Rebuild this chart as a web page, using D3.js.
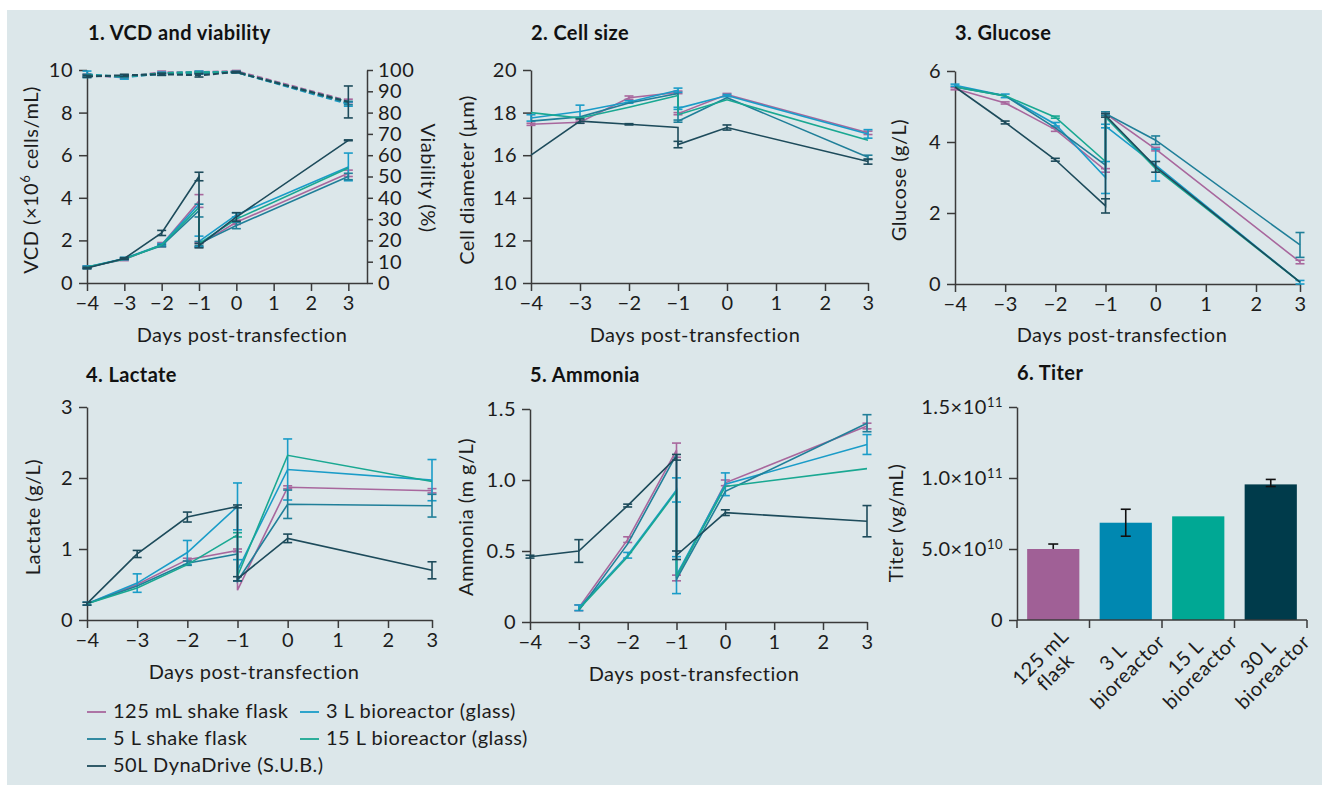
<!DOCTYPE html>
<html><head><meta charset="utf-8">
<script src="https://cdn.jsdelivr.net/npm/d3@7"></script>
<style>body{margin:0;background:#fff;} svg{display:block;font-family:Lato, sans-serif;}</style>
</head><body>
<svg id="c" width="1322" height="785"></svg>
<script>
// ---------- DATA ----------
const seriesNames = ["125 mL shake flask", "3 L bioreactor (glass)", "5 L shake flask", "15 L bioreactor (glass)", "50L DynaDrive (S.U.B.)"];
const days = [-4, -3, -2, -1, -1, 0, 3];        // day -1 sampled before and after split
const viaDays = [-4, -3, -2, -1, 0, 3];
const dayTicks = [-4, -3, -2, -1, 0, 1, 2, 3];

const vcd = [
  [0.75, 1.10, 1.80, 3.85, 1.80, 2.85, 5.15],
  [0.75, 1.15, 1.80, 3.70, 1.95, 3.20, 5.45],
  [0.72, 1.15, 1.75, 3.40, 1.85, 2.70, 5.00],
  [0.75, 1.12, 1.78, 3.55, 1.85, 3.00, 5.40],
  [0.70, 1.15, 2.35, 5.00, 1.75, 3.10, 6.70]
];
const vcdErr = [
  [0.05, 0.05, 0.10, 0.30, 0.10, 0.10, 0.15],
  [0.05, 0.05, 0.05, 0, 0.25, 0.10, 0.65],
  [0.05, 0.05, 0.05, 0.30, 0.10, 0.15, 0.15],
  [0, 0, 0, 0, 0, 0, 0],
  [0.03, 0.03, 0.12, 0.20, 0.10, 0.20, 0.02]
];
const viability = [
  [97.5, 96.5, 99.0, 99.0, 99.5, 85.5],
  [98.0, 96.5, 98.5, 99.0, 99.0, 84.0],
  [97.5, 97.0, 98.0, 98.5, 99.0, 84.5],
  [97.5, 97.0, 98.5, 99.0, 99.0, 85.0],
  [97.0, 97.5, 98.0, 97.5, 99.0, 85.0]
];
const viabilityErr = [
  [0.5, 0.5, 0.5, 0.5, 0.3, 0.8],
  [1.5, 0.8, 0.5, 0.5, 0.3, 1.0],
  [0.5, 0.5, 0.5, 0.5, 0.3, 0.8],
  [0, 0, 0, 0, 0, 0],
  [0.5, 0.5, 0.5, 0.8, 0.3, 7.5]
];
const cellSize = [
  [17.45, 17.55, 18.70, 18.95, 17.95, 18.85, 17.05],
  [17.75, 18.05, 18.50, 19.05, 18.20, 18.80, 17.00],
  [17.60, 17.80, 18.45, 18.90, 17.60, 18.70, 15.90],
  [18.00, 17.75, 18.25, 18.80, 17.90, 18.60, 16.70],
  [16.00, 17.60, 17.45, 17.30, 16.50, 17.30, 15.70]
];
const cellSizeErr = [
  [0.05, 0.05, 0.08, 0.06, 0.05, 0.05, 0.08],
  [0.15, 0.30, 0.06, 0.10, 0.05, 0.05, 0.20],
  [0, 0, 0, 0, 0.05, 0, 0.10],
  [0, 0, 0, 0, 0, 0, 0],
  [0, 0.10, 0.03, 0, 0.15, 0.12, 0.12]
];
const glucose = [
  [5.50, 5.10, 4.35, 3.20, 4.80, 3.80, 0.62],
  [5.60, 5.30, 4.50, 3.00, 4.45, 3.35, 0.05],
  [5.55, 5.30, 4.40, 3.35, 4.80, 4.05, 1.10],
  [5.55, 5.30, 4.70, 3.45, 4.70, 3.25, 0.05],
  [5.55, 4.55, 3.50, 2.20, 4.75, 3.30, 0.05]
];
const glucoseErr = [
  [0.03, 0.03, 0.05, 0.05, 0.05, 0.05, 0.05],
  [0.03, 0.05, 0.05, 0.45, 0.05, 0.45, 0.05],
  [0, 0, 0, 0, 0.05, 0.12, 0.35],
  [0, 0, 0.03, 0, 0, 0, 0],
  [0, 0.04, 0.04, 0.20, 0.05, 0.15, 0]
];
const lactate = [
  [0.23, 0.50, 0.85, 0.98, 0.42, 1.87, 1.82],
  [0.23, 0.52, 0.95, 1.60, 0.70, 2.12, 1.97],
  [0.23, 0.48, 0.80, 0.93, 0.55, 1.63, 1.61],
  [0.23, 0.45, 0.78, 1.20, 0.62, 2.32, 1.95],
  [0.23, 0.93, 1.45, 1.60, 0.58, 1.15, 0.70]
];
const lactateErr = [
  [0, 0, 0.02, 0.02, 0, 0.02, 0.03],
  [0.02, 0.13, 0.17, 0.33, 0.15, 0.43, 0.29],
  [0, 0, 0.03, 0, 0, 0.20, 0.16],
  [0, 0, 0, 0.03, 0, 0, 0],
  [0.02, 0.05, 0.07, 0.02, 0.03, 0.06, 0.12]
];
const ammonia = [
  [null, 0.10, 0.58, 1.21, 0.31, 0.98, 1.38],
  [null, 0.10, 0.47, 0.93, 0.33, 0.97, 1.25],
  [null, 0.08, 0.55, 1.18, 0.30, 0.92, 1.40],
  [null, 0.09, 0.46, 0.92, 0.32, 0.955, 1.08],
  [0.46, 0.50, 0.82, 1.16, 0.47, 0.77, 0.71]
];
const ammoniaErr = [
  [0, 0.02, 0.02, 0.05, 0.02, 0.02, 0.02],
  [0, 0.02, 0.02, 0.085, 0.13, 0.08, 0.07],
  [0, 0, 0, 0, 0, 0, 0.06],
  [0, 0, 0, 0, 0, 0, 0],
  [0.01, 0.08, 0.01, 0.02, 0.03, 0.02, 0.11]
];
const titerCats = ["125 mL|flask", "3 L|bioreactor", "15 L|bioreactor", "30 L|bioreactor"];
const titer = [5.0e10, 6.85e10, 7.3e10, 9.55e10];
const titerLow = [5.0e10, 5.9e10, null, 9.4e10];
const titerHigh = [5.35e10, 7.8e10, null, 9.9e10];
const titerTicks = [0, 5e10, 1e11, 1.5e11];

// ---------- STYLE ----------
const colors = ["#a8679d", "#1a9cc8", "#207f99", "#19a892", "#1d4b5b"];
const barColors = ["#a06096", "#0088b1", "#00a894", "#003b4b"];
const axisColor = "#3a3a3a";
const textColor = "#1c1c1c";
const FS = 20, LS = 0.5;

const svg = d3.select("#c");
svg.append("rect").attr("x", 7).attr("y", 10).attr("width", 1315).attr("height", 775).attr("fill", "#dce7ea");

function styleAxis(g) {
  g.attr("font-family", "Lato, sans-serif").attr("font-size", FS);
  g.selectAll("path,line").attr("stroke", axisColor).attr("stroke-width", 1.5);
  g.selectAll("text").attr("fill", textColor).attr("letter-spacing", LS);
}
function title(x, y, t) {
  svg.append("text").attr("x", x).attr("y", y).attr("font-weight", 700).attr("font-size", 20)
    .attr("letter-spacing", 0.4).attr("fill", "#111").text(t);
}
function ylabel(x, y, t, rot) {
  svg.append("text").attr("transform", `translate(${x},${y}) rotate(${rot || -90})`)
    .attr("text-anchor", "middle").attr("font-size", FS).attr("letter-spacing", LS).attr("fill", textColor).text(t);
}
function xlabel(x, y, t) {
  svg.append("text").attr("x", x).attr("y", y).attr("text-anchor", "middle")
    .attr("font-size", FS).attr("letter-spacing", LS).attr("fill", textColor).text(t);
}
function drawSeries(x, y, xs, vals, errs, dashed) {
  const g = svg.append("g");
  [0, 1, 2, 3, 4].forEach(i => {
    const pts = vals[i].map((v, j) => ({ x: xs[j], v, e: errs ? errs[i][j] : 0 }));
    const line = d3.line().defined(d => d.v != null).x(d => x(d.x)).y(d => y(d.v));
    g.append("path").attr("d", line(pts)).attr("fill", "none").attr("stroke", colors[i])
      .attr("stroke-width", dashed ? 2 : 1.6).attr("stroke-dasharray", dashed ? "6,3" : null);
    pts.filter(d => d.v != null && d.e > 0).forEach(d => {
      const cx = x(d.x), y1 = y(d.v - d.e), y2 = y(d.v + d.e);
      const eg = g.append("g").attr("stroke", colors[i]).attr("stroke-width", 1.6);
      eg.append("line").attr("x1", cx).attr("x2", cx).attr("y1", y1).attr("y2", y2);
      eg.append("line").attr("x1", cx - 4.5).attr("x2", cx + 4.5).attr("y1", y1).attr("y2", y1);
      eg.append("line").attr("x1", cx - 4.5).attr("x2", cx + 4.5).attr("y1", y2).attr("y2", y2);
    });
  });
}
function xAxis(x, yPos) {
  const g = svg.append("g").attr("transform", `translate(0,${yPos})`)
    .call(d3.axisBottom(x).tickValues(dayTicks).tickSize(8).tickPadding(5).tickSizeOuter(0).tickFormat(d3.format("d")));
  styleAxis(g);
}
function yAxis(y, xPos, ticks, fmt) {
  const g = svg.append("g").attr("transform", `translate(${xPos},0)`)
    .call(d3.axisLeft(y).tickValues(ticks).tickSize(8).tickPadding(6).tickSizeOuter(0).tickFormat(fmt));
  styleAxis(g);
}

// ---------- PANEL 1 ----------
{
  const x = d3.scaleLinear().domain([-4, 3.5]).range([87, 367]);
  const y = d3.scaleLinear().domain([0, 10]).range([283, 70]);
  const y2 = d3.scaleLinear().domain([0, 100]).range([283, 70]);
  xAxis(x, 283);
  yAxis(y, 87, [0, 2, 4, 6, 8, 10], d3.format("d"));
  const g = svg.append("g").attr("transform", "translate(367,0)")
    .call(d3.axisRight(y2).tickValues(d3.range(0, 101, 10)).tickSize(6).tickPadding(5).tickSizeOuter(0));
  styleAxis(g);
  drawSeries(x, y2, viaDays, viability, viabilityErr, true);
  drawSeries(x, y, days, vcd, vcdErr, false);
  title(88, 40, "1. VCD and viability");
  const t = svg.append("text").attr("transform", "translate(38,180) rotate(-90)").attr("text-anchor", "middle")
    .attr("font-size", FS).attr("letter-spacing", LS).attr("fill", textColor);
  t.append("tspan").text("VCD (×10");
  t.append("tspan").attr("font-size", 13).attr("dy", -8).text("6");
  t.append("tspan").attr("dy", 8).text(" cells/mL)");
  ylabel(421, 178, "Viability (%)", 90);
  xlabel(242, 342, "Days post-transfection");
}

// ---------- PANELS 2-5 ----------
const panels = [
  { t: "2. Cell size", tx: 531, ty: 40, xr: [531, 825, 868], yd: [10, 20], yr: [283, 70], yt: [10, 12, 14, 16, 18, 20], fmt: d3.format("d"),
    yl: "Cell diameter (µm)", ylx: 474, yly: 180, xlx: 695, xly: 342, vals: cellSize, errs: cellSizeErr },
  { t: "3. Glucose", tx: 955, ty: 40, xr: [955, 1256, 1300], yd: [0, 6], yr: [284, 71], yt: [0, 2, 4, 6], fmt: d3.format("d"),
    yl: "Glucose (g/L)", ylx: 906, yly: 180, xlx: 1122, xly: 342, vals: glucose, errs: glucoseErr },
  { t: "4. Lactate", tx: 86, ty: 382, xr: [87, 388, 432], yd: [0, 3], yr: [620, 407], yt: [0, 1, 2, 3], fmt: d3.format("d"),
    yl: "Lactate (g/L)", ylx: 40, yly: 517, xlx: 254, xly: 679, vals: lactate, errs: lactateErr },
  { t: "5. Ammonia", tx: 530, ty: 382, xr: [530, 823, 867], yd: [0, 1.5], yr: [622, 409], yt: [0, 0.5, 1, 1.5], fmt: d => d === 0 ? "0" : d3.format(".1f")(d),
    yl: "Ammonia (m g/L)", ylx: 473, yly: 517, xlx: 694, xly: 681, vals: ammonia, errs: ammoniaErr }
];
panels.forEach(p => {
  const x = d3.scaleLinear().domain([-4, 2, 3]).range(p.xr);
  const y = d3.scaleLinear().domain(p.yd).range(p.yr);
  xAxis(x, p.yr[0]);
  yAxis(y, p.xr[0], p.yt, p.fmt);
  drawSeries(x, y, days, p.vals, p.errs, false);
  title(p.tx, p.ty, p.t);
  ylabel(p.ylx, p.yly, p.yl, -90);
  xlabel(p.xlx, p.xly, "Days post-transfection");
});

// ---------- PANEL 6 ----------
{
  const x = d3.scaleBand().domain(titerCats).range([1017, 1307]).paddingInner(0.28).paddingOuter(0.14);
  const y = d3.scaleLinear().domain([0, 1.5e11]).range([620, 407]);
  svg.append("g").selectAll("rect").data(titerCats).join("rect")
    .attr("x", d => x(d)).attr("width", x.bandwidth())
    .attr("y", (d, i) => y(titer[i])).attr("height", (d, i) => y(0) - y(titer[i]))
    .attr("fill", (d, i) => barColors[i]);
  titerCats.forEach((c, i) => {
    if (titerLow[i] == null) return;
    const cx = x(c) + x.bandwidth() / 2, y1 = y(titerLow[i]), y2 = y(titerHigh[i]);
    const eg = svg.append("g").attr("stroke", "#111").attr("stroke-width", 1.6);
    eg.append("line").attr("x1", cx).attr("x2", cx).attr("y1", y1).attr("y2", y2);
    if (titerLow[i] < titer[i]) eg.append("line").attr("x1", cx - 5).attr("x2", cx + 5).attr("y1", y1).attr("y2", y1);
    eg.append("line").attr("x1", cx - 5).attr("x2", cx + 5).attr("y1", y2).attr("y2", y2);
  });
  const gy = svg.append("g").attr("transform", "translate(1017,0)")
    .call(d3.axisLeft(y).tickValues(titerTicks).tickSize(8).tickPadding(6).tickSizeOuter(0).tickFormat(""));
  styleAxis(gy);
  gy.selectAll(".tick").each(function (d) {
    const t = d3.select(this).select("text");
    t.text(null);
    if (d === 0) { t.text("0"); return; }
    const e = Math.floor(Math.log10(d) + 1e-9), m = d / Math.pow(10, e);
    t.append("tspan").text(m.toFixed(1) + "×10");
    t.append("tspan").attr("font-size", 13).attr("dy", "-0.5em").text(e);
  });
  const step = x.step();
  const gx = svg.append("g").attr("transform", "translate(0,620)");
  gx.append("line").attr("x1", 1017).attr("x2", 1307).attr("y1", 0).attr("y2", 0);
  gx.append("line").attr("x1", 1017).attr("x2", 1017).attr("y1", 0).attr("y2", 8);
  titerCats.forEach(c => {
    const bx = x(c) + x.bandwidth() + (step - x.bandwidth()) / 2;
    gx.append("line").attr("x1", bx).attr("x2", bx).attr("y1", 0).attr("y2", 8);
  });
  gx.selectAll("line").attr("stroke", axisColor).attr("stroke-width", 1.5);
  titerCats.forEach(c => {
    const cx = x(c) + x.bandwidth() / 2;
    const lines = c.split("|");
    const t = svg.append("text").attr("transform", `translate(${cx - 8},662) rotate(-45)`)
      .attr("text-anchor", "middle").attr("font-size", FS).attr("letter-spacing", LS).attr("fill", textColor);
    lines.forEach((l, k) => t.append("tspan").attr("x", 0).attr("dy", k === 0 ? 0 : "1.05em").text(l));
  });
  title(1017, 380, "6. Titer");
  ylabel(903, 523, "Titer (vg/mL)", -90);
}

// ---------- LEGEND ----------
{
  const pos = [[87, 718], [300, 718], [87, 745], [300, 745], [87, 772]];
  seriesNames.forEach((n, i) => {
    const [lx, ly] = pos[i];
    svg.append("line").attr("x1", lx).attr("x2", lx + 19).attr("y1", ly - 6).attr("y2", ly - 6)
      .attr("stroke", colors[i]).attr("stroke-width", 1.8);
    svg.append("text").attr("x", lx + 26).attr("y", ly).attr("font-size", FS).attr("letter-spacing", LS)
      .attr("fill", textColor).text(n);
  });
}
</script>
</body></html>
